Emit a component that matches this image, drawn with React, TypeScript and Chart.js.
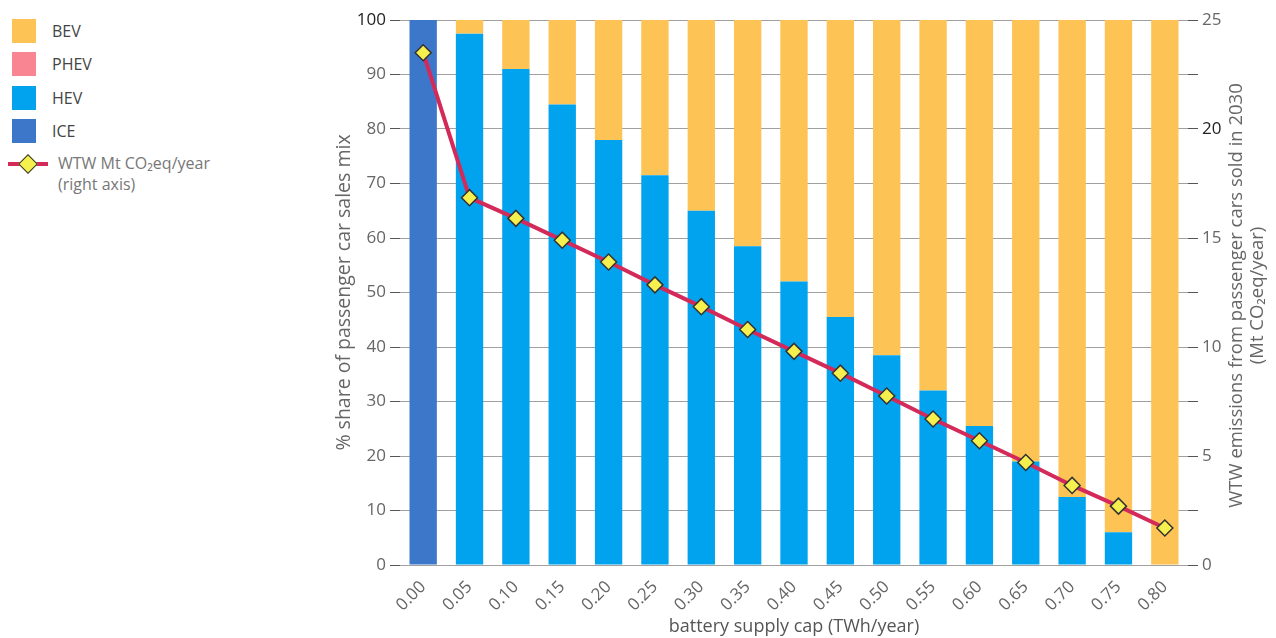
import React, { useEffect, useRef } from "react";
import { Chart, registerables } from "chart.js";

Chart.register(...registerables);

const categories = ["0.00","0.05","0.10","0.15","0.20","0.25","0.30","0.35","0.40","0.45","0.50","0.55","0.60","0.65","0.70","0.75","0.80"];
const iceShare = [100,0,0,0,0,0,0,0,0,0,0,0,0,0,0,0,0];
const hevShare = [0,97.5,91,84.5,78,71.5,65,58.5,52,45.5,38.5,32,25.5,19,12.5,6,0];
const phevShare = [0,0,0,0,0,0,0,0,0,0,0,0,0,0,0,0,0];
const bevShare = [0,2.5,9,15.5,22,28.5,35,41.5,48,54.5,61.5,68,74.5,81,87.5,94,100];
const wtwEmissions = [23.5,16.85,15.9,14.9,13.9,12.85,11.85,10.8,9.8,8.8,7.75,6.7,5.7,4.7,3.65,2.7,1.7];

const leftTicks = [0,10,20,30,40,50,60,70,80,90,100];
const rightTickLabels = [0,5,10,15,20,25];
const rightTitle = ["WTW emissions from passenger cars sold in 2030", "(Mt CO₂eq/year)"];

const FONT = "'Open Sans', sans-serif";
const C_BEV = "#fdc355";
const C_PHEV = "#f98592";
const C_HEV = "#02a3ee";
const C_ICE = "#3d77c9";
const C_LINE = "#d42a5a";

const rightTitlePlugin = {
  id: "rightTitle",
  afterDraw(chart: any) {
    const ctx = chart.ctx;
    const area = chart.chartArea;
    const cy = (area.top + area.bottom) / 2 + 3;
    ctx.save();
    ctx.font = `18.5px ${FONT}`;
    ctx.fillStyle = "#666";
    ctx.textAlign = "center";
    ctx.textBaseline = "middle";
    const xs = [917, 938];
    rightTitle.forEach((t, i) => {
      ctx.save();
      ctx.translate(xs[i], cy);
      ctx.rotate(-Math.PI / 2);
      ctx.fillText(t, 0, 0);
      ctx.restore();
    });
    ctx.restore();
  },
};

export default function App() {
  const ref = useRef<HTMLCanvasElement | null>(null);

  useEffect(() => {
    document.body.style.margin = "0";
    const canvas = ref.current!;
    const barCommon = { barPercentage: 0.59, categoryPercentage: 1.0, yAxisID: "y", order: 2, borderWidth: 0 };
    const chart = new Chart(canvas, {
      type: "bar",
      data: {
        labels: categories,
        datasets: [
          { label: "ICE", data: iceShare, backgroundColor: C_ICE, ...barCommon } as any,
          { label: "HEV", data: hevShare, backgroundColor: C_HEV, ...barCommon } as any,
          { label: "PHEV", data: phevShare, backgroundColor: C_PHEV, ...barCommon } as any,
          { label: "BEV", data: bevShare, backgroundColor: C_BEV, ...barCommon } as any,
          {
            type: "line",
            label: "WTW Mt CO₂eq/year",
            data: wtwEmissions,
            yAxisID: "y1",
            order: 0,
            borderColor: C_LINE,
            borderWidth: 4,
            pointStyle: "rectRot",
            pointRadius: 8,
            pointBackgroundColor: "#f6f04e",
            pointBorderColor: "#333",
            pointBorderWidth: 1.5,
            tension: 0,
          } as any,
        ],
      },
      options: {
        responsive: false,
        animation: false,
        layout: { padding: { top: 20, left: 0, right: 0, bottom: 0 } },
        plugins: { legend: { display: false }, tooltip: { enabled: false } },
        scales: {
          x: {
            stacked: true,
            grid: { display: false },
            border: { display: false },
            ticks: { minRotation: 45, maxRotation: 45, color: "#666", font: { family: FONT, size: 17 }, padding: 4 },
            title: { display: true, text: "battery supply cap (TWh/year)", color: "#555", font: { family: FONT, size: 18 }, padding: { top: 0, bottom: 0 } },
            afterFit: (s: any) => { s.height = 73; },
          },
          y: {
            stacked: true,
            position: "left",
            min: 0,
            max: 100,
            afterBuildTicks: (s: any) => { s.ticks = leftTicks.map((v) => ({ value: v })); },
            grid: { color: "#a0a0a0", lineWidth: 1, tickLength: 10, tickColor: "#555" },
            border: { display: false },
            ticks: {
              color: (c: any) => (c.tick && c.tick.value === 100 ? "#222" : "#666"),
              font: { family: FONT, size: 17 },
              padding: 4,
            },
            title: { display: true, text: "% share of passenger car sales mix", color: "#666", font: { family: FONT, size: 19.5 }, padding: { top: 13, bottom: 0 } },
            afterFit: (s: any) => { s.width = 80; },
          },
          y1: {
            position: "right",
            min: 0,
            max: 25,
            afterBuildTicks: (s: any) => {
              const arr: any[] = [];
              for (let i = 0; i <= 10; i++) arr.push({ value: i * 2.5 });
              s.ticks = arr;
            },
            grid: { drawOnChartArea: false, tickLength: 10, tickColor: "#555" },
            border: { display: false },
            ticks: {
              color: (c: any) => (c.tick && c.tick.value === 20 ? "#222" : "#666"),
              font: { family: FONT, size: 17 },
              padding: 4,
              callback: (v: any) => (rightTickLabels.includes(Number(v)) ? String(v) : ""),
            },
            title: { display: false },
            afterFit: (s: any) => { s.width = 88; },
          },
        },
      } as any,
      plugins: [rightTitlePlugin],
    });
    return () => chart.destroy();
  }, []);

  const sq = (color: string) => ({ width: 24, height: 24, background: color, display: "inline-block", marginRight: 16 });
  const row = { display: "flex", alignItems: "center", height: 33.5, fontFamily: FONT, fontSize: 16, color: "#444" } as React.CSSProperties;

  return (
    <div style={{ position: "relative", width: 1276, height: 638, background: "#fff", overflow: "hidden" }}>
      <div style={{ position: "absolute", left: 12, top: 14 }}>
        <div style={row}><span style={sq(C_BEV)} />BEV</div>
        <div style={row}><span style={sq(C_PHEV)} />PHEV</div>
        <div style={row}><span style={sq(C_HEV)} />HEV</div>
        <div style={row}><span style={sq(C_ICE)} />ICE</div>
      </div>
      <div style={{ position: "absolute", left: 8, top: 153, fontFamily: FONT, fontSize: 16, color: "#777", lineHeight: "21px" }}>
        <div style={{ display: "flex", alignItems: "center" }}>
          <span style={{ position: "relative", width: 40, height: 20, display: "inline-block", marginRight: 10 }}>
            <span style={{ position: "absolute", left: 0, top: 8, width: 40, height: 4, background: C_LINE }} />
            <span style={{ position: "absolute", left: 13, top: 3, width: 12, height: 12, background: "#f6f04e", border: "1.5px solid #333", transform: "rotate(45deg)" }} />
          </span>
          <span>WTW Mt CO₂eq/year</span>
        </div>
        <div style={{ paddingLeft: 50 }}>(right axis)</div>
      </div>
      <canvas ref={ref} width={956} height={638} style={{ position: "absolute", left: 320, top: 0, width: 956, height: 638 }} />
    </div>
  );
}
